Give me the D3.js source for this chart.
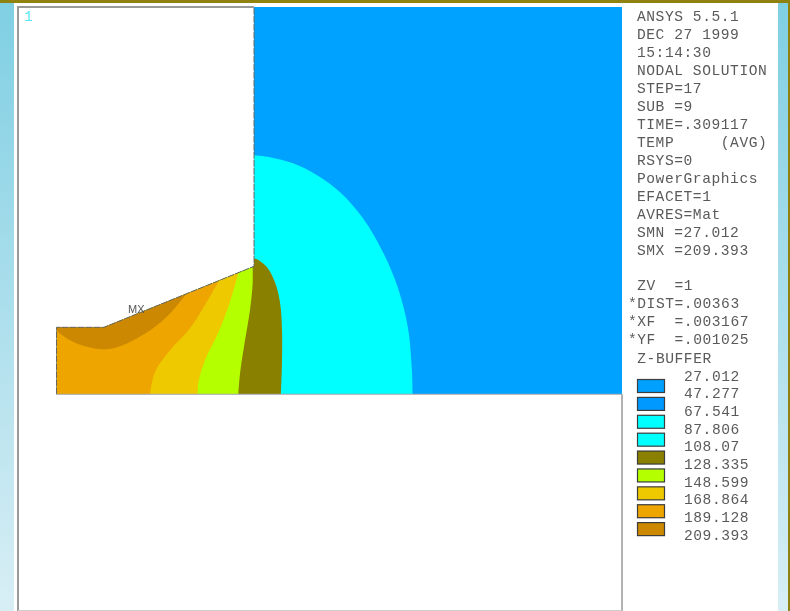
<!DOCTYPE html>
<html><head><meta charset="utf-8">
<style>html,body{margin:0;padding:0;background:#fff;overflow:hidden}svg{display:block}text{white-space:pre}</style>
<script src="https://cdn.jsdelivr.net/npm/d3@7"></script></head>
<body><div id="chart"></div>
<script>
// Model coordinates in millimetres
const focusX = 3.167, focusY = 1.025, dist = 3.63;
const outline = [[0,0],[0,.805],[.57,.805],[2.374,1.538],[2.374,4.655]];
const tempCyan = [[2.374,2.873],[2.566,2.850],[2.843,2.776],[3.132,2.632],[3.408,2.428],[3.684,2.115],[3.924,1.707],[4.105,1.274],[4.225,.793],[4.273,.264],[4.279,0]];
const tempOlive = [[2.374,1.629],[2.410,1.623],[2.530,1.526],[2.626,1.346],[2.686,1.106],[2.710,.793],[2.710,.385],[2.698,0]];
const tempGreen = [[2.358,1.530],[2.358,1.334],[2.325,1.010],[2.266,.649],[2.206,.252],[2.185,0]];
const tempYellow = [[2.185,1.451],[2.085,1.109],[1.941,.733],[1.785,.409],[1.705,.132],[1.697,0]];
const tempOrange = [[1.945,1.350],[1.805,1.109],[1.605,.793],[1.364,.529],[1.184,.268],[1.124,0]];
const tempDark = [[1.565,1.210],[1.400,1.010],[1.208,.829],[.968,.673],[.727,.565],[.547,.541],[.343,.577],[.162,.649],[.002,.761]];
const infoTop = ["ANSYS 5.5.1","DEC 27 1999","15:14:30","NODAL SOLUTION","STEP=17","SUB =9","TIME=.309117","TEMP     (AVG)","RSYS=0","PowerGraphics","EFACET=1","AVRES=Mat","SMN =27.012","SMX =209.393"];
const infoMid = [" ZV  =1","*DIST=.00363","*XF  =.003167","*YF  =.001025"," Z-BUFFER"];
const levels = ["27.012","47.277","67.541","87.806","108.07","128.335","148.599","168.864","189.128","209.393"];
const levelColors = ["#00a0ff","#0099ff","#00ffff","#00ffff","#8a8000","#b4ff00","#eec900","#eea500","#cc8800"];
const blue = "#00a2ff", cyan = "#00ffff", olive = "#8a8000", green = "#b4ff00", yellow = "#eec900", orange = "#eea500", dark = "#cc8800";

const W = 790, H = 611;
const svg = d3.select("#chart").append("svg").attr("width", W).attr("height", H);
const defs = svg.append("defs");
const g = defs.append("linearGradient").attr("id","bg").attr("x1",0).attr("x2",0).attr("y1",0).attr("y2",1);
g.append("stop").attr("offset",0).attr("stop-color","#7fcfe3");
g.append("stop").attr("offset",1).attr("stop-color","#d8eef5");
const soft = defs.append("filter").attr("id","soft");
soft.append("feGaussianBlur").attr("stdDeviation",.35);

svg.append("rect").attr("width",W).attr("height",H).attr("fill","url(#bg)");
svg.append("rect").attr("x",14).attr("y",3).attr("width",764).attr("height",H-3).attr("fill","#fff");
svg.append("rect").attr("width",W).attr("height",3).attr("fill","#8f8210");
svg.append("rect").attr("x",788).attr("width",2).attr("height",H).attr("fill","#8f8210");

const x = d3.scaleLinear().domain([focusX-dist, focusX+dist]).range([18,622]);
const y = d3.scaleLinear().domain([focusY-dist, focusY+dist]).range([611,7]);
const [xMin,xMax] = x.domain(), yMax = y.domain()[1], yMin = y.domain()[0];
const P = p => x(p[0]) + "," + y(p[1]);
const curve = d3.line().x(d=>x(d[0])).y(d=>y(d[1])).curve(d3.curveCatmullRom.alpha(.5));

const clipPts = outline.concat([[xMax,yMax],[xMax,0]]);
defs.append("clipPath").attr("id","work").append("polygon").attr("points",clipPts.map(P).join(" "));

const field = svg.append("g").attr("clip-path","url(#work)");
field.append("rect").attr("x",x(0)).attr("y",y(yMax)).attr("width",x(xMax)-x(0)).attr("height",y(0)-y(yMax)).attr("fill",blue);
[[tempCyan,cyan],[tempOlive,olive],[tempGreen,green],[tempYellow,yellow],[tempOrange,orange]].forEach(([pts,c])=>{
  field.append("path").attr("fill",c)
    .attr("d", curve(pts) + "L" + P([0,0]) + "L" + P([0,pts[0][1]]) + "Z");
});
field.append("path").attr("fill",dark)
  .attr("d", curve(tempDark) + "L" + P([0,.805]) + "L" + P([.57,.805]) + "L" + P([2.374,1.538]) + "Z");

// outlines
svg.append("path").attr("fill","none").attr("stroke","#666").attr("stroke-width",1).attr("stroke-dasharray","7 1").attr("filter","url(#soft)")
  .attr("d", d3.line().x(d=>x(d[0])).y(d=>y(d[1]))(outline));
svg.append("line").attr("x1",x(0)).attr("x2",x(xMax)).attr("y1",y(0)).attr("y2",y(0)).attr("stroke","#aaa");
const frame = [[xMin,yMin],[xMin,yMax],[2.374,yMax]];
svg.append("path").attr("fill","none").attr("stroke","#9a9a9a").attr("stroke-width",2).attr("filter","url(#soft)")
  .attr("d", d3.line().x(d=>x(d[0])).y(d=>y(d[1]))(frame));
svg.append("line").attr("x1",x(xMax)).attr("x2",x(xMax)).attr("y1",y(0)).attr("y2",y(yMin)).attr("stroke","#9a9a9a").attr("stroke-width",1.5);
svg.append("line").attr("x1",18).attr("x2",622).attr("y1",610.5).attr("y2",610.5).attr("stroke","#ccc");

const mono = "'Liberation Mono','DejaVu Sans Mono',monospace";
const txt = svg.append("g").attr("font-family",mono).attr("font-size",14.6).attr("letter-spacing",.55).attr("fill","#5a5a5a").attr("filter","url(#soft)");
const topY = d3.scaleLinear().domain([0,infoTop.length-1]).range([21,254.5]);
txt.selectAll("text.a").data(infoTop).join("text").attr("class","a").attr("x",637).attr("y",(d,i)=>topY(i)).attr("xml:space","preserve").text(d=>d);
const midY = d3.scaleLinear().domain([0,infoMid.length-1]).range([290,362.5]);
txt.selectAll("text.b").data(infoMid).join("text").attr("class","b").attr("x",628).attr("y",(d,i)=>midY(i)).attr("xml:space","preserve").text(d=>d);
const levY = d3.scaleBand().domain(levels).range([371,548]);
txt.selectAll("text.c").data(levels).join("text").attr("class","c").attr("x",684).attr("y",d=>levY(d)+9.5).text(d=>d);

const swY = d3.scaleBand().domain(d3.range(levelColors.length)).range([379,540]);
svg.append("g").selectAll("rect").data(levelColors).join("rect")
  .attr("x",637.5).attr("width",27).attr("y",(d,i)=>swY(i)+.5).attr("height",13)
  .attr("fill",d=>d).attr("stroke","#3c3c3c").attr("stroke-width",1.2).attr("filter","url(#soft)");

svg.append("text").attr("x",24).attr("y",21).attr("font-family",mono).attr("font-size",14).attr("fill","#55e8f0").text("1");
svg.append("text").attr("x",128).attr("y",313).attr("font-family","'Liberation Sans',sans-serif").attr("font-size",11).attr("fill","#555").attr("filter","url(#soft)").text("MX");
</script></body></html>
